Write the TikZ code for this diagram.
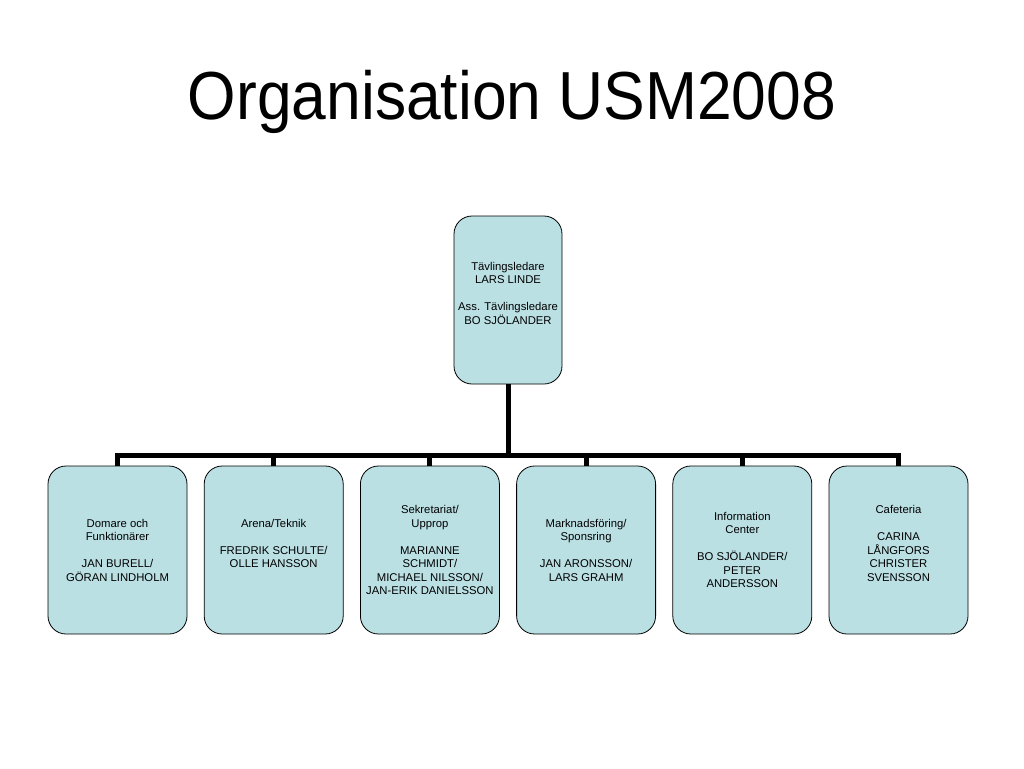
\documentclass[tikz,border=0pt]{standalone}
\usepackage{fontspec}
\setmainfont{Liberation Sans}
\usetikzlibrary{positioning}
\definecolor{boxfill}{RGB}{187,224,228}
\tikzset{
  orgbox/.style={draw=black, line width=0.8pt, fill=boxfill, rounded corners=18pt,
    minimum width=139pt, minimum height=168pt, inner sep=0pt, align=center,
    font=\fontsize{11.3}{13.5}\selectfont},
  link/.style={line width=5pt, line join=miter},
}
\begin{document}
\begin{tikzpicture}[x=1pt, y=-1pt]
  \useasboundingbox (0,0) rectangle (1024,768);

  % title ---------------------------------------------------
  \node[anchor=base, font=\fontsize{68}{80}\selectfont] (title) at (512,119)
        {\scalebox{0.917}[1]{Organisation USM2008}};

  % head ----------------------------------------------------
  \node[orgbox, minimum width=108pt] (head) at (508,300)
        {Tävlingsledare\\LARS LINDE\\[13.5pt]Ass. Tävlingsledare\\BO SJÖLANDER\\~};

  % groups --------------------------------------------------
  \node[orgbox] (domare) at (117.5,550)
        {Domare och\\Funktionärer\\[13.5pt]JAN BURELL/\\GÖRAN LINDHOLM};
  \node[orgbox, right=16.4pt of domare] (arena)
        {Arena/Teknik\\[13.5pt]FREDRIK SCHULTE/\\OLLE HANSSON\\~};
  \node[orgbox, right=16.4pt of arena] (sekr)
        {Sekretariat/\\Upprop\\[13.5pt]MARIANNE\\SCHMIDT/\\MICHAEL NILSSON/\\JAN-ERIK DANIELSSON};
  \node[orgbox, right=16.4pt of sekr] (mark)
        {Marknadsföring/\\Sponsring\\[13.5pt]JAN ARONSSON/\\LARS GRAHM};
  \node[orgbox, right=16.4pt of mark] (info)
        {Information\\Center\\[13.5pt]BO SJÖLANDER/\\PETER\\ANDERSSON};
  \node[orgbox, right=16.4pt of info] (cafe)
        {Cafeteria\\[13.5pt]CARINA\\LÅNGFORS\\CHRISTER\\SVENSSON\\~};

  % connectors ----------------------------------------------
  \foreach \g in {domare,arena,sekr,mark,info,cafe}
    \draw[link] (head.south) -- ++(0,71) -| (\g.north);

\end{tikzpicture}
\end{document}
